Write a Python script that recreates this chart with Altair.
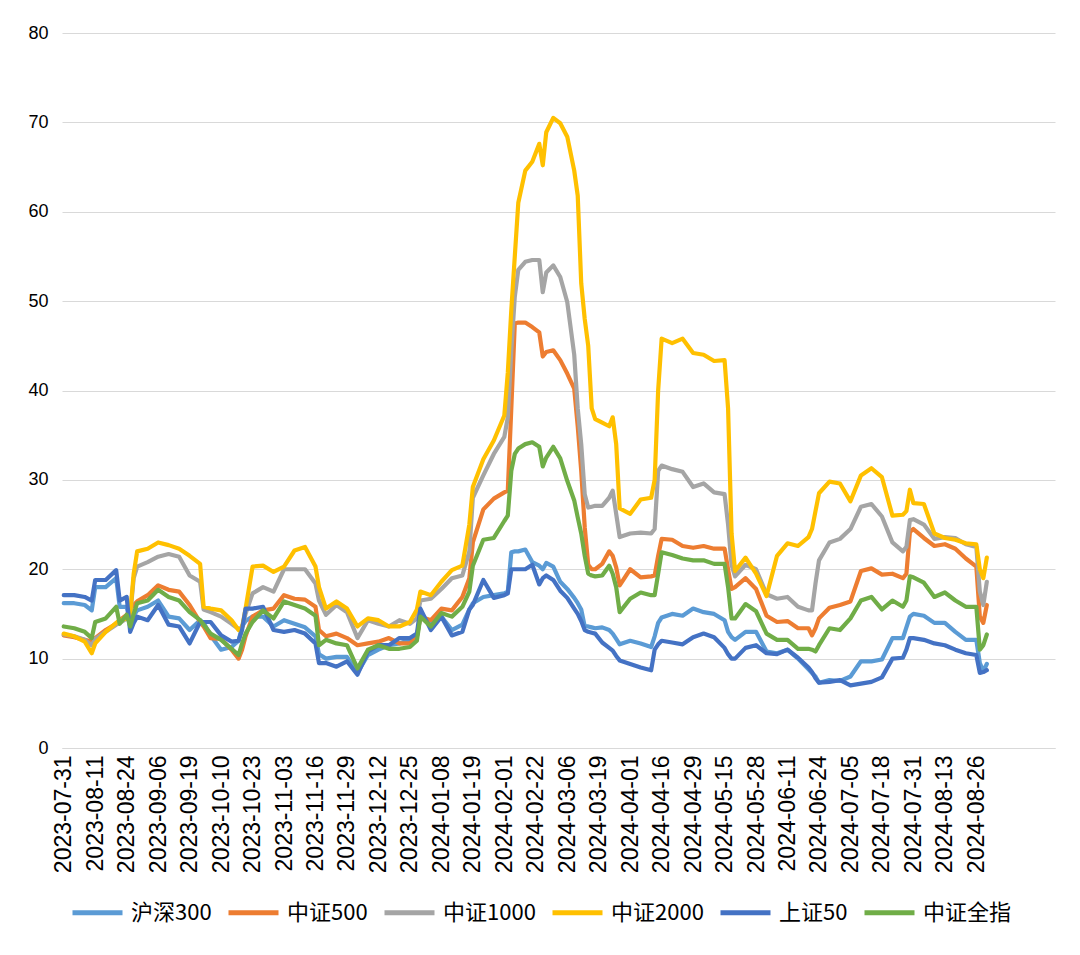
import altair as alt
import pandas as pd

# trading-day index of each sampled point (0 = 2023-07-31)
idx = [0,3,6,8,9,12,15,16,18,19,
       20,21,24,27,30,33,36,39,40,42,
       45,48,50,51,52,54,57,60,63,66,
       69,72,73,75,78,81,84,87,90,93,
       96,99,101,102,105,108,111,114,116,117,
       120,123,126,127,128,129,130,132,134,136,
       137,138,140,142,144,146,147,148,149,150,
       151,152,154,156,157,158,159,162,165,168,
       169,170,171,174,177,180,183,186,189,190,
       191,192,195,198,201,204,207,210,213,214,
       215,216,219,222,225,228,231,234,237,240,
       241,242,243,246,249,252,255,258,261,262,
       263,264]

hs300 = [16.2,16.2,16.0,15.4,18.0,18.0,19.0,15.8,15.8,14.0,
         14.8,15.4,15.8,16.5,14.7,14.5,13.2,14.3,14.0,12.6,
         11.0,11.3,12.0,13.6,14.2,14.7,14.7,13.6,14.3,13.9,
         13.5,12.5,10.5,10.0,10.2,10.2,8.4,10.4,11.0,11.5,
         11.7,12.1,12.5,14.7,14.1,14.7,13.2,13.8,15.5,16.2,
         16.9,17.1,17.3,17.5,21.9,22.0,22.0,22.2,20.8,20.4,
         20.0,20.7,20.3,18.6,17.8,16.8,16.2,15.5,13.6,13.6,
         13.5,13.4,13.5,13.2,12.8,12.2,11.6,12.0,11.7,11.3,
         12.5,14.0,14.6,15.0,14.8,15.6,15.2,15.0,14.3,13.0,
         12.4,12.1,13.0,13.0,10.8,10.6,11.0,10.0,8.8,8.4,
         8.0,7.3,7.6,7.5,8.0,9.7,9.7,9.9,12.3,12.3,
         13.5,14.7,15.0,14.8,14.0,14.0,13.0,12.1,12.1,9.5,
         8.6,9.4]

zz500 = [12.6,12.4,12.1,11.9,12.3,13.2,13.9,14.3,14.9,15.5,
         16.0,16.4,17.1,18.2,17.7,17.5,16.0,14.1,13.6,12.3,
         12.2,11.0,10.0,11.0,12.5,14.7,15.4,15.6,17.1,16.7,
         16.6,15.8,13.2,12.5,12.8,12.3,11.5,11.7,11.9,12.3,
         11.7,11.7,12.5,14.7,14.3,15.6,15.4,16.9,19.0,23.0,
         26.7,27.9,28.6,28.8,38.0,47.5,47.6,47.6,47.1,46.5,
         43.8,44.3,44.5,43.4,41.9,40.2,36.0,31.0,24.7,20.5,
         20.0,20.0,20.6,22.0,21.5,20.2,18.2,20.0,19.1,19.2,
         19.3,21.5,23.4,23.3,22.6,22.4,22.6,22.3,22.3,20.0,
         17.8,18.0,19.0,17.8,14.8,14.1,14.2,13.4,13.4,12.6,
         13.4,14.5,15.7,16.0,16.4,19.8,20.1,19.4,19.5,19.0,
         19.5,24.2,24.5,23.5,22.6,22.8,22.3,21.2,20.3,14.7,
         14.0,16.0]

zz1000 = [12.7,12.5,12.1,11.5,12.2,13.0,13.8,14.0,14.5,14.8,
          19.0,20.3,20.8,21.4,21.7,21.4,19.3,18.6,15.5,15.2,
          14.7,13.9,13.3,13.5,15.0,17.3,18.0,17.5,20.0,20.0,
          20.0,18.4,16.5,14.9,16.0,15.2,12.3,14.3,13.9,13.6,
          14.3,13.9,14.5,16.5,16.7,17.8,19.0,19.3,22.0,28.0,
          30.5,32.9,34.8,37.0,44.5,50.5,53.5,54.4,54.6,54.6,
          51.0,53.2,54.0,52.7,49.9,44.0,38.0,34.0,28.4,26.9,
          27.0,27.1,27.1,28.0,28.8,26.2,23.6,24.0,24.1,24.0,
          24.5,31.0,31.6,31.2,30.9,29.2,29.6,28.6,28.4,25.0,
          20.5,19.2,20.5,20.0,17.2,16.7,16.9,15.8,15.4,15.4,
          18.4,21.0,23.0,23.4,24.5,27.0,27.3,25.9,23.0,22.0,
          22.5,25.5,25.6,25.0,23.4,23.6,23.5,22.8,22.5,17.5,
          16.0,18.6]

zz2000 = [12.8,12.5,11.9,10.6,11.7,13.0,14.0,14.3,14.5,15.0,
          19.5,22.0,22.3,23.0,22.7,22.3,21.5,20.6,15.8,15.6,
          15.4,14.3,13.2,13.5,15.6,20.3,20.4,19.7,20.3,22.1,
          22.5,20.3,18.0,15.6,16.4,15.6,13.6,14.5,14.3,13.6,
          13.6,14.1,15.5,17.5,17.1,18.6,19.9,20.4,25.0,29.2,
          32.3,34.4,37.2,42.0,49.0,55.0,61.0,64.6,65.6,67.6,
          65.2,68.9,70.5,69.9,68.4,64.6,61.8,52.0,48.0,45.0,
          38.0,36.8,36.4,36.0,37.0,34.0,26.8,26.2,27.8,28.0,
          30.0,40.0,45.8,45.3,45.8,44.2,44.0,43.3,43.4,38.0,
          24.0,19.8,21.3,19.5,17.0,21.5,22.9,22.6,23.6,24.5,
          26.5,28.5,29.8,29.6,27.6,30.5,31.3,30.3,26.0,26.1,
          26.5,28.9,27.4,27.3,24.0,23.5,23.3,22.9,22.8,20.0,
          19.0,21.3]

sz50 = [17.1,17.1,16.9,16.5,18.8,18.8,19.9,16.5,16.9,13.0,
        14.0,14.7,14.3,16.0,13.8,13.6,11.7,14.1,14.1,14.1,
        12.6,11.9,12.0,13.2,15.6,15.6,15.8,13.2,13.0,13.2,
        12.8,11.7,9.5,9.5,9.1,9.7,8.2,10.8,11.5,11.5,
        12.3,12.3,12.8,15.6,13.2,14.7,12.6,13.0,15.5,16.0,
        18.8,16.8,17.1,17.3,20.0,20.0,20.0,20.0,20.5,18.3,
        19.0,19.3,18.8,17.6,16.8,15.6,15.0,14.2,13.2,13.0,
        12.9,12.8,11.8,11.2,10.9,10.3,9.8,9.4,9.0,8.7,
        11.0,11.6,12.0,11.8,11.6,12.4,12.8,12.4,11.2,10.5,
        10.0,10.0,11.2,11.5,10.6,10.5,11.0,10.1,9.0,8.5,
        7.8,7.3,7.4,7.6,7.0,7.2,7.4,7.9,10.0,10.1,
        11.0,12.3,12.3,12.1,11.7,11.5,11.0,10.6,10.4,8.4,
        8.5,8.7]

zzqz = [13.6,13.4,13.0,12.3,14.1,14.5,15.8,13.9,14.9,13.6,
        15.0,16.2,16.5,17.7,16.9,16.5,15.2,14.3,13.8,12.8,
        12.1,11.1,10.4,11.7,12.8,14.1,15.4,14.5,16.4,16.0,
        15.6,14.8,11.5,12.1,11.7,11.5,8.9,11.0,11.5,11.1,
        11.1,11.3,12.0,14.7,13.6,15.1,14.7,15.8,17.5,20.4,
        23.3,23.5,25.4,26.0,31.0,32.9,33.5,34.0,34.2,33.7,
        31.5,32.5,33.7,32.4,29.9,27.7,25.8,24.0,21.5,19.5,
        19.3,19.2,19.3,20.4,19.5,18.0,15.2,16.7,17.4,17.1,
        17.1,19.5,21.9,21.6,21.2,21.0,21.0,20.6,20.6,18.0,
        14.5,14.5,16.1,15.3,12.8,12.1,12.1,11.1,11.1,11.0,
        10.8,11.5,13.4,13.2,14.5,16.5,16.9,15.5,16.5,15.8,
        16.5,19.2,19.1,18.5,16.9,17.4,16.5,15.8,15.8,11.0,
        11.5,12.7]

series_names = ["沪深300", "中证500", "中证1000", "中证2000", "上证50", "中证全指"]
series_colors = ["#5B9BD5", "#ED7D31", "#A5A5A5", "#FFC000", "#4472C4", "#70AD47"]
series_values = [hs300, zz500, zz1000, zz2000, sz50, zzqz]

tick_labels = ["2023-07-31", "2023-08-11", "2023-08-24", "2023-09-06", "2023-09-19",
               "2023-10-10", "2023-10-23", "2023-11-03", "2023-11-16", "2023-11-29",
               "2023-12-12", "2023-12-25", "2024-01-08", "2024-01-19", "2024-02-01",
               "2024-02-22", "2024-03-06", "2024-03-19", "2024-04-01", "2024-04-16",
               "2024-04-29", "2024-05-15", "2024-05-28", "2024-06-11", "2024-06-24",
               "2024-07-05", "2024-07-18", "2024-07-31", "2024-08-13", "2024-08-26"]
tick_step = 9
y_ticks = [0, 10, 20, 30, 40, 50, 60, 70, 80]

rows = []
for name, vals in zip(series_names, series_values):
    for i, v in zip(idx, vals):
        rows.append({"idx": i, "value": v, "series": name})
df = pd.DataFrame(rows)

label_expr = "[" + ",".join("'" + s + "'" for s in tick_labels) + "][round(datum.value/" + str(tick_step) + ")]"

x_enc = alt.X(
    "idx:Q",
    scale=alt.Scale(domain=[-0.5, 283.5], nice=False, zero=False),
    axis=alt.Axis(
        values=[k * tick_step for k in range(len(tick_labels))],
        labelExpr=label_expr,
        labelAngle=270,
        labelOverlap=False,
        labelFont="Liberation Sans",
        labelFontSize=23,
        labelColor="#000000",
        labelPadding=7,
        ticks=False,
        grid=False,
        domainColor="#d9d9d9",
        domainWidth=1,
        title=None,
    ),
)
y_enc = alt.Y(
    "value:Q",
    scale=alt.Scale(domain=[0, 80], nice=False, zero=True),
    axis=alt.Axis(
        values=y_ticks,
        labelFont="Liberation Sans",
        labelFontSize=18,
        labelColor="#000000",
        labelPadding=14,
        ticks=False,
        domain=False,
        grid=True,
        gridColor="#d9d9d9",
        gridWidth=1,
        title=None,
    ),
)
color_enc = alt.Color(
    "series:N",
    scale=alt.Scale(domain=series_names, range=series_colors),
    legend=alt.Legend(
        orient="none",
        legendX=8,
        legendY=852,
        direction="horizontal",
        title=None,
        symbolType="stroke",
        symbolStrokeWidth=5,
        symbolSize=2500,
        labelFont="Noto Sans CJK SC",
        labelFontSize=22,
        labelColor="#000000",
        labelOffset=6,
        columnPadding=6,
        padding=0,
    ),
)

layers = []
for name in series_names:
    layers.append(
        alt.Chart(df)
        .transform_filter(alt.datum.series == name)
        .mark_line(strokeWidth=4.2, strokeJoin="round", strokeCap="round")
        .encode(x=x_enc, y=y_enc, color=color_enc)
    )

chart = (
    alt.layer(*layers)
    .properties(
        width=993,
        height=715,
        autosize=alt.AutoSizeParams(type="none"),
        padding={"left": 54, "top": 25, "right": 17, "bottom": 190},
        background="#ffffff",
    )
    .configure_view(stroke=None)
)

chart.save("out.html", embed_options={"renderer": "svg", "actions": False})
